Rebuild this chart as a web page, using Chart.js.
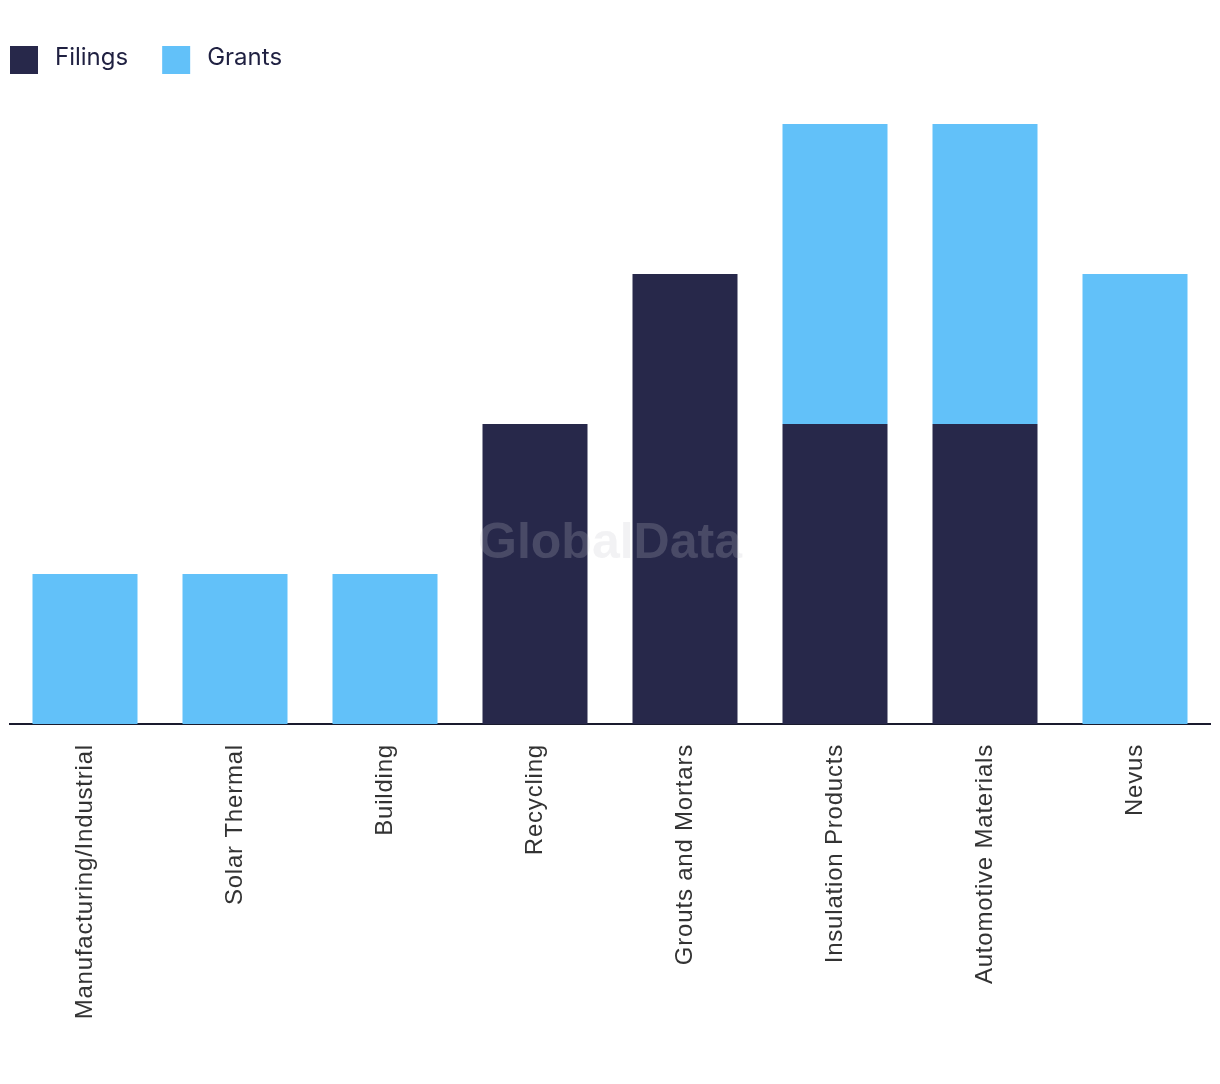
<!DOCTYPE html>
<html>
<head>
<meta charset="utf-8">
<script src="https://cdn.jsdelivr.net/npm/chart.js@4.4.1/dist/chart.umd.min.js"></script>
<style>
  html, body { margin: 0; padding: 0; background: #ffffff; }
  #wrap { width: 1220px; height: 1084px; position: relative; }
</style>
</head>
<body>
<div id="wrap"><canvas id="c"></canvas></div>
<script>
const categories = ["Manufacturing/Industrial", "Solar Thermal", "Building", "Recycling", "Grouts and Mortars", "Insulation Products", "Automotive Materials", "Nevus"];
const filings = [0, 0, 0, 2, 3, 2, 2, 0];
const grants  = [1, 1, 1, 0, 0, 2, 2, 3];
const seriesNames = ["Filings", "Grants"];
const seriesColors = ["#27284a", "#62c1f9"];

const spacingPlugin = {
  id: 'tickSpacing',
  beforeDraw(chart) { chart.ctx.letterSpacing = '0.8px'; }
};

const legendPlugin = {
  id: 'customLegend',
  afterDraw(chart) {
    const ctx = chart.ctx;
    ctx.save();
    ctx.letterSpacing = '0px';
    ctx.font = '24px Inter, "Liberation Sans", sans-serif';
    ctx.textBaseline = 'middle';
    ctx.textAlign = 'left';
    let x = 10;
    chart.data.datasets.forEach((ds) => {
      ctx.fillStyle = ds.backgroundColor;
      ctx.fillRect(x, 46, 28, 28);
      ctx.fillStyle = '#1f2041';
      ctx.fillText(ds.label, x + 45, 58);
      x += 45 + ctx.measureText(ds.label).width + 34;
    });
    ctx.restore();
  }
};

const watermarkPlugin = {
  id: 'watermark',
  afterDatasetsDraw(chart) {
    const ctx = chart.ctx;
    ctx.save();
    ctx.letterSpacing = '0px';
    ctx.font = 'bold 50px "Liberation Sans", Arial, sans-serif';
    ctx.textAlign = 'center';
    ctx.textBaseline = 'middle';
    ctx.fillStyle = 'rgba(195,195,205,0.22)';
    ctx.fillText('GlobalData', 610, 544);
    ctx.restore();
  }
};

new Chart(document.getElementById('c'), {
  type: 'bar',
  data: {
    labels: categories,
    datasets: [
      { label: seriesNames[0], data: filings, backgroundColor: seriesColors[0], barPercentage: 0.7, categoryPercentage: 1.0 },
      { label: seriesNames[1], data: grants, backgroundColor: seriesColors[1], barPercentage: 0.7, categoryPercentage: 1.0 }
    ]
  },
  options: {
    responsive: true,
    maintainAspectRatio: false,
    animation: false,
    layout: { padding: { left: 10, right: 10, top: 124, bottom: 0 } },
    plugins: {
      legend: { display: false },
      tooltip: { enabled: false }
    },
    scales: {
      x: {
        stacked: true,
        grid: { display: false, drawTicks: false },
        border: { display: true, color: '#1a1b2e', width: 2 },
        ticks: {
          minRotation: 90, maxRotation: 90, padding: 20, autoSkip: false,
          color: '#333333',
          font: { family: '"Liberation Sans", Arial, sans-serif', size: 24 }
        },
        afterFit(scale) { scale.height = 360; }
      },
      y: {
        stacked: true,
        display: false,
        min: 0, max: 4
      }
    }
  },
  plugins: [spacingPlugin, legendPlugin, watermarkPlugin]
});
</script>
</body>
</html>
